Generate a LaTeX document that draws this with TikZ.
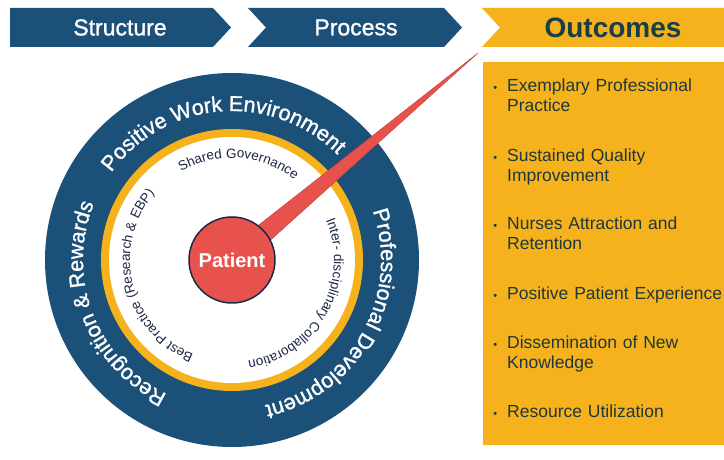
\documentclass[tikz,border=0pt]{standalone}
\usepackage{fontspec}
\setmainfont{Liberation Sans}
\newfontfamily\medfont[FakeBold=1.2]{Liberation Sans}
\usetikzlibrary{positioning, calc, decorations.text}
\definecolor{ringblue}{RGB}{27, 80, 121}
\definecolor{ringgold}{RGB}{245, 178, 28}
\definecolor{patred}{RGB}{232, 82, 77}
\definecolor{navy1}{RGB}{29, 40, 70}
\definecolor{outtext}{RGB}{24, 62, 72}
\definecolor{itemtext}{RGB}{30, 56, 58}

\begin{document}
\begin{tikzpicture}[x=1pt, y=1pt,
  chevtext/.style={text=white, font=\medfont\fontsize{23}{23}\selectfont},
  item/.style={anchor=north west, inner sep=0pt, text width=215pt, align=left, text=itemtext, font=\fontsize{17.5}{20.5}\selectfont},
  outerlbl/.style={decorate, decoration={text along path, text align=center, text={|\medfont\fontsize{21.5}{21.5}\selectfont\color{white}|#1}}},
  innerlbl/.style={decorate, decoration={text along path, text align=center, text={|\fontsize{13.5}{13.5}\selectfont\color{navy1}|#1}}}
]
  \useasboundingbox (0,0) rectangle (724,460);
  \fill[white] (0,0) rectangle (724,460);

  % header chevrons
  \fill[ringblue] (10,452) -- (213,452) -- (231,432.5) -- (213,413) -- (10,413) -- cycle;
  \fill[ringblue] (248,452) -- (444,452) -- (462,432.5) -- (444,413) -- (248,413) -- (266,432.5) -- cycle;
  \fill[ringgold] (482,452) -- (724,452) -- (724,413) -- (482,413) -- (500,432.5) -- cycle;
  \node[chevtext] (structure) at (120,432.5) {Structure};
  \node[chevtext] (process) at (356,432.5) {Process};
  \node[text=outtext, font=\fontsize{28}{28}\selectfont\bfseries] (outcomes) at (613,432.5) {Outcomes};

  % outcomes list
  \fill[ringgold] (483,15) rectangle (724,398);
  \node[item] (o1) at (507,381.5) {\llap{\fontsize{11}{11}\selectfont\textbullet\hspace{10pt}}Exemplary Professional\\Practice};
  \node[item] (o2) at (507,311.5) {\llap{\fontsize{11}{11}\selectfont\textbullet\hspace{10pt}}Sustained Quality\\Improvement};
  \node[item] (o3) at (507,243.5) {\llap{\fontsize{11}{11}\selectfont\textbullet\hspace{10pt}}Nurses Attraction and\\Retention};
  \node[item] (o4) at (507,173.5) {\llap{\fontsize{11}{11}\selectfont\textbullet\hspace{10pt}}Positive Patient Experience};
  \node[item] (o5) at (507,124.5) {\llap{\fontsize{11}{11}\selectfont\textbullet\hspace{10pt}}Dissemination of New\\Knowledge};
  \node[item] (o6) at (507,55.5) {\llap{\fontsize{11}{11}\selectfont\textbullet\hspace{10pt}}Resource Utilization};

  % rings
  \coordinate (c) at (232,200);
  \fill[ringblue] (c) circle[radius=187pt];
  \fill[ringgold] (c) circle[radius=131pt];
  \fill[white] (c) circle[radius=123pt];

  % pointer and patient
  \coordinate (tip) at (478,407);
  \fill[patred, draw=patred!80!black, line width=0.4pt] ($(c)!11pt!90:(tip)$) -- (tip) -- ($(c)!11pt!-90:(tip)$) -- cycle;
  \node[circle, fill=patred, draw=navy1, line width=1.5pt, minimum size=86pt, text=white, font=\fontsize{20}{20}\selectfont\bfseries] (patient) at (c) {Patient};

  % ring labels
  \path[outerlbl={Positive Work Environment}] ($(c)+(174.5:149pt)$) arc[start angle=174.5, end angle=14.5, radius=149pt];
  \path[outerlbl={Professional Development}] ($(c)+(51:149pt)$) arc[start angle=51, end angle=-109, radius=149pt];
  \path[outerlbl={Recognition {\&} Rewards}] ($(c)+(281:149pt)$) arc[start angle=281, end angle=121, radius=149pt];
  \path[innerlbl={Shared Governance}] ($(c)+(156:102pt)$) arc[start angle=156, end angle=16, radius=102pt];
  \path[innerlbl={Inter- disciplinary Collaboration}] ($(c)+(41:102pt)$) arc[start angle=41, end angle=-99, radius=102pt];
  \path[innerlbl={Best Practice (Research {\&} EBP)}] ($(c)+(263.6:102pt)$) arc[start angle=263.6, end angle=123.6, radius=102pt];
\end{tikzpicture}
\end{document}
